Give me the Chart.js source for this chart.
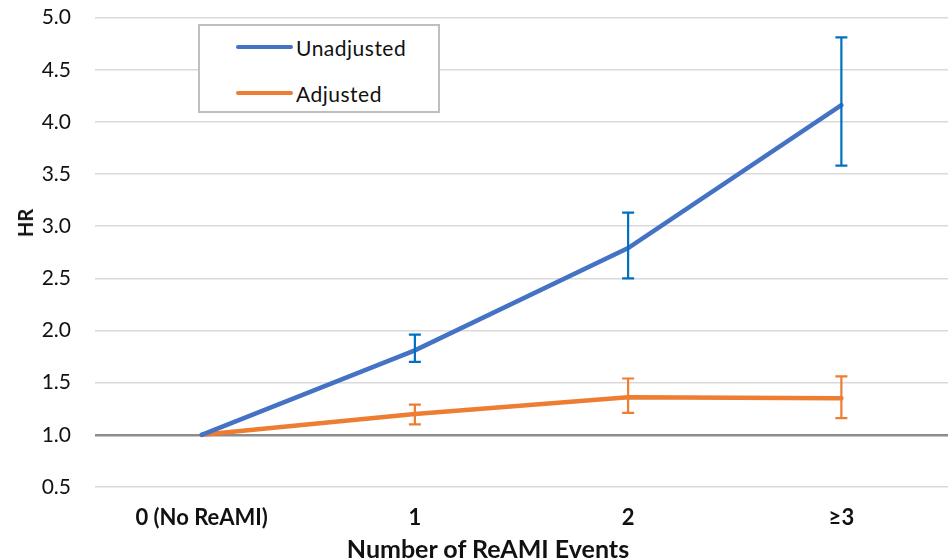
<!DOCTYPE html>
<html>
<head>
<meta charset="utf-8">
<script src="https://cdn.jsdelivr.net/npm/chart.js@4/dist/chart.umd.min.js"></script>
<style>
  body { margin: 0; background: #fff; }
  #wrap { position: relative; width: 948px; height: 559px; overflow: hidden; }
  #legend {
    position: absolute; left: 198px; top: 24px; width: 238px; height: 85px;
    border: 2px solid #bfbfbf; background: #fff;
    font-family: Lato, "Noto Sans", sans-serif; font-size: 21px; letter-spacing: 0.5px; color: #111;
  }
  .item { position: absolute; left: 36px; height: 24px; display: flex; align-items: center; }
  .swatch { width: 57px; height: 4px; border-radius: 2px; margin-right: 3px; }
  .axisTitle {
    position: absolute; font-family: Lato, "Noto Sans", sans-serif; font-weight: bold;
    color: #111; white-space: nowrap; line-height: 1; transform: translate(-50%, -50%);
  }
  #xTitle { left: 488px; top: 548px; font-size: 25px; }
  #yTitle { left: 25px; top: 223px; font-size: 20px; transform: translate(-50%, -50%) rotate(-90deg); }
</style>
</head>
<body>
<div id="wrap">
  <canvas id="myChart" width="948" height="559"></canvas>
  <div id="legend">
    <div class="item" style="top:9px"><span class="swatch" style="background:#4472C4"></span>Unadjusted</div>
    <div class="item" style="top:55px"><span class="swatch" style="background:#ED7D31"></span>Adjusted</div>
  </div>
  <div class="axisTitle" id="xTitle">Number of ReAMI Events</div>
  <div class="axisTitle" id="yTitle">HR</div>
</div>
<script>
// categories and values
var categories = ["0 (No ReAMI)", "1", "2", "\u22653"];
var unadjusted = [1.0, 1.81, 2.79, 4.16];
var unadjLow = [null, 1.70, 2.50, 3.58];
var unadjHigh = [null, 1.96, 3.13, 4.81];
var adjusted = [1.0, 1.20, 1.36, 1.35];
var adjLow = [null, 1.10, 1.21, 1.16];
var adjHigh = [null, 1.29, 1.54, 1.56];

// draws the confidence intervals as error bars
var errorBars = {
  id: "errorBars",
  afterDatasetsDraw: function (chart) {
    var ctx = chart.ctx;
    var x = chart.scales.x, y = chart.scales.y;
    var sets = [
      { low: unadjLow, high: unadjHigh, color: "#0070C0" },
      { low: adjLow, high: adjHigh, color: "#ED7D31" },
    ];
    ctx.save();
    ctx.lineWidth = 2.2;
    sets.forEach(function (s) {
      ctx.strokeStyle = s.color;
      for (var i = 0; i < categories.length; i++) {
        if (s.low[i] == null) continue;
        var px = x.getPixelForValue(i);
        var top = y.getPixelForValue(s.high[i]);
        var bot = y.getPixelForValue(s.low[i]);
        ctx.beginPath();
        ctx.moveTo(px, top); ctx.lineTo(px, bot);
        ctx.moveTo(px - 6, top); ctx.lineTo(px + 6, top);
        ctx.moveTo(px - 6, bot); ctx.lineTo(px + 6, bot);
        ctx.stroke();
      }
    });
    ctx.restore();
  },
};

var font = "Lato, 'Noto Sans', sans-serif";
var ctx = document.getElementById("myChart").getContext("2d");
var myChart = new Chart(ctx, {
  type: "line",
  data: {
    labels: categories,
    datasets: [
      {
        label: "Unadjusted",
        data: unadjusted,
        borderColor: "#4472C4",
        borderWidth: 4.5,
        pointRadius: 0,
        tension: 0,
        borderCapStyle: "round",
      },
      {
        label: "Adjusted",
        data: adjusted,
        borderColor: "#ED7D31",
        borderWidth: 4.5,
        pointRadius: 0,
        tension: 0,
        borderCapStyle: "round",
      },
    ],
  },
  options: {
    responsive: false,
    animation: false,
    layout: { padding: 0 },
    plugins: { legend: { display: false }, tooltip: { enabled: false } },
    scales: {
      x: {
        offset: true,
        afterFit: function (scale) { scale.height = 72; },
        grid: { display: false, drawTicks: false },
        border: { display: false },
        ticks: { color: "#111", font: { family: font, size: 22, weight: "bold" }, padding: 18 },
      },
      y: {
        min: 0.5,
        max: 5.0,
        afterFit: function (scale) { scale.width = 95; },
        border: { display: false },
        grid: {
          drawTicks: true,
          tickLength: 19,
          tickColor: "rgba(0,0,0,0)",
          color: function (c) { return c.tick && c.tick.value === 1 ? "#8c8c8c" : "#d9d9d9"; },
          lineWidth: function (c) { return c.tick && c.tick.value === 1 ? 2.5 : 1.5; },
        },
        ticks: {
          stepSize: 0.5,
          padding: 5,
          color: "#111",
          font: { family: font, size: 21 },
          callback: function (v) { return v.toFixed(1); },
        },
      },
    },
  },
  plugins: [errorBars],
});
</script>
</body>
</html>
